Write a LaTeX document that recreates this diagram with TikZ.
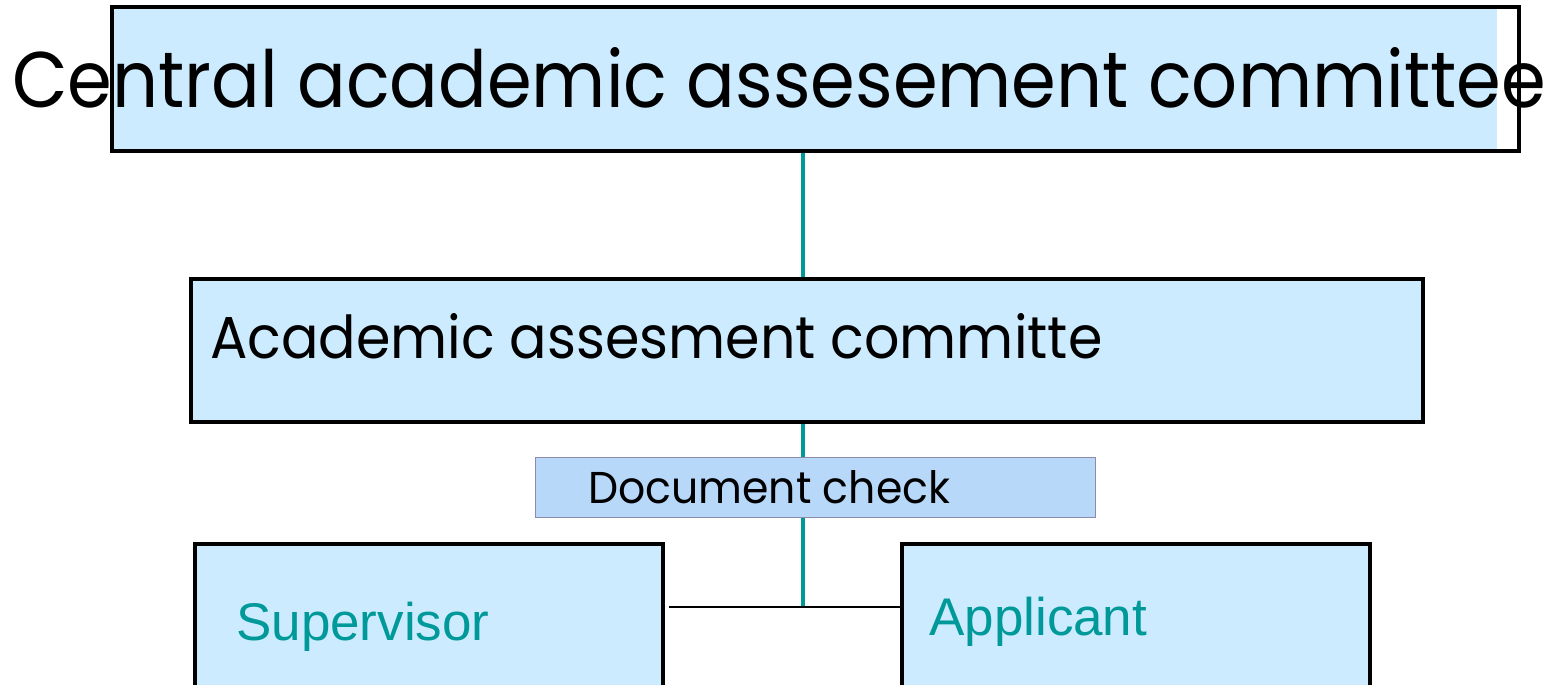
\documentclass[tikz,border=0pt]{standalone}
\usepackage{fontspec}
\setmainfont{Liberation Sans}
\newfontfamily\geo{Poppins}
\definecolor{boxblue}{RGB}{204,235,255}
\definecolor{docblue}{RGB}{184,216,250}
\definecolor{docedge}{RGB}{140,140,170}
\definecolor{tealc}{RGB}{0,153,153}
\begin{document}
\begin{tikzpicture}[x=1pt,y=-1pt,
  boxnode/.style={draw=black, line width=4pt, fill=boxblue, inner sep=0, anchor=north west},
  docnode/.style={draw=docedge, line width=1pt, fill=docblue, inner sep=0, anchor=north west},
  label/.style={inner sep=0, anchor=base west},
  tealline/.style={draw=tealc, line width=4pt},
  blackline/.style={draw=black, line width=2pt}]
\useasboundingbox (0,0) rectangle (1553,685);
% boxes
\fill[boxblue] (110,5) rectangle (1497,149);
\node[boxnode, fill=none, minimum width=1407pt, minimum height=144pt] (central) at (110,5) {};
\node[boxnode, minimum width=1232pt, minimum height=143pt] (mid) at (189,277) {};
\node[docnode, minimum width=560pt, minimum height=60pt] (doc) at (535,457) {};
\node[boxnode, minimum width=468pt, minimum height=160pt] (super) at (193,542) {};
\node[boxnode, minimum width=468pt, minimum height=160pt] (appl) at (900,542) {};
% connectors
\coordinate (j) at (803,607);
\draw[tealline] (central.south -| j) -- (mid.north -| j);
\draw[tealline] (mid.south -| j) -- (doc.north -| j);
\draw[tealline] (doc.south -| j) -- (j);
\draw[blackline] ([xshift=4pt]j -| super.east) -- (j -| appl.west);
% texts
\node[label] (ctext) at (12,107) {\resizebox{1533pt}{60pt}{\geo Central academic assesement committee}};
\node[label] (mtext) at (210,358) {\resizebox{892pt}{45pt}{\geo Academic assesment committe}};
\node[label] (dtext) at (588,503) {\resizebox{362pt}{33pt}{\geo Document check}};
\node[label, text=tealc, font=\fontsize{53}{60}\selectfont] (stext) at (236,640) {Supervisor};
\node[label, text=tealc, font=\fontsize{53}{60}\selectfont] (atext) at (929,635) {Applicant};
\end{tikzpicture}
\end{document}
